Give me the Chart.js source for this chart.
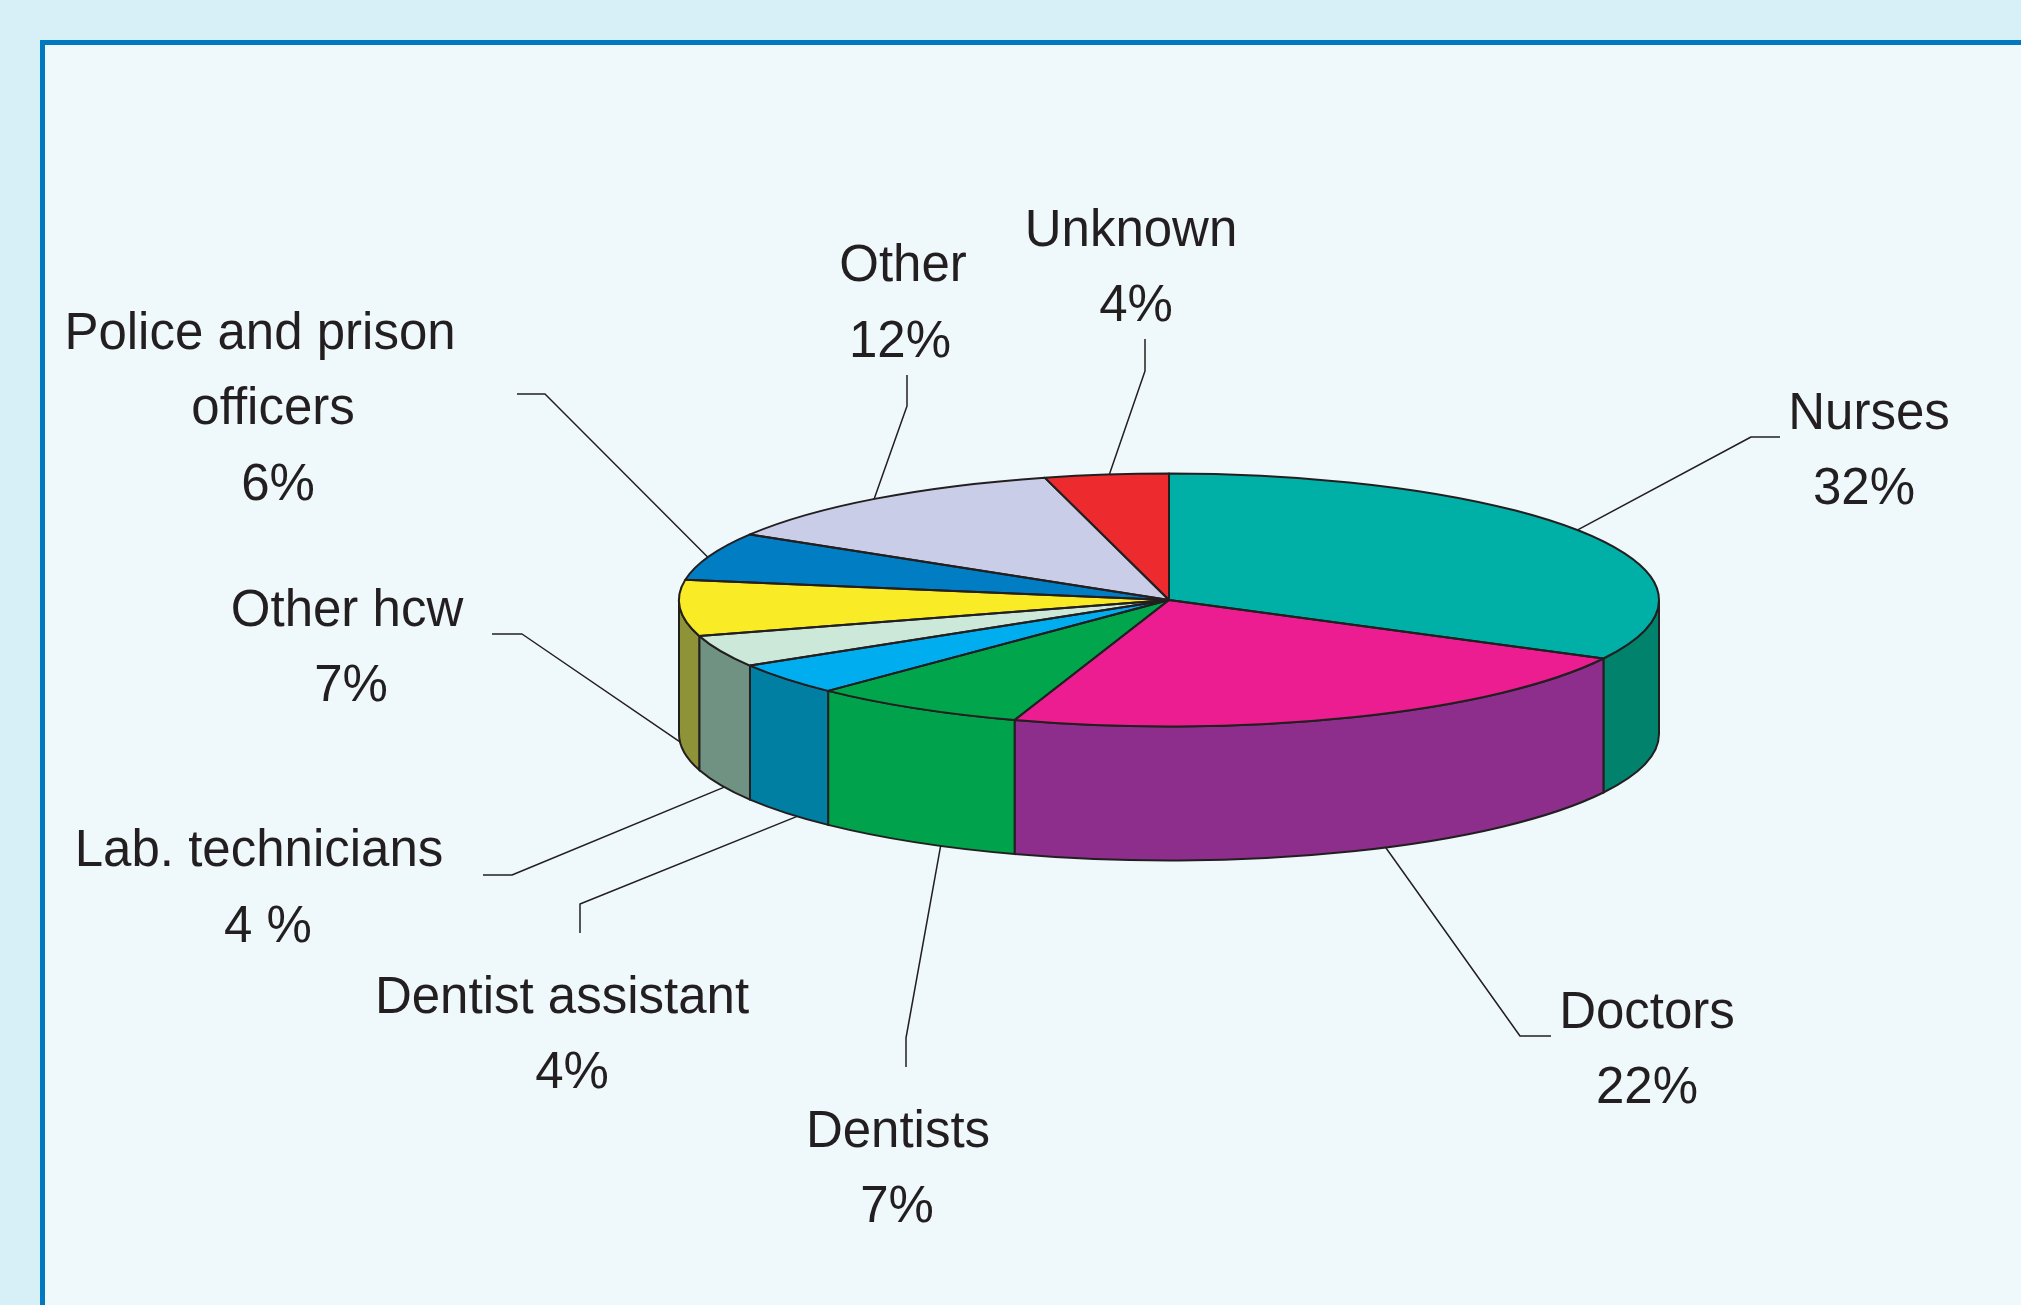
<!DOCTYPE html>
<html>
<head>
<meta charset="utf-8">
<title>Occupation pie</title>
<script src="https://cdn.jsdelivr.net/npm/chart.js@4"></script>
<style>
    html, body { margin: 0; padding: 0; width: 2021px; height: 1305px; overflow: hidden; background: #d7f0f7; }
    #panel { position: absolute; left: 40px; top: 40px; right: -20px; bottom: -20px; background: #eff8fb; border: 5px solid #0079c1; }
    #wrap { position: absolute; left: 0; top: 0; width: 2021px; height: 1305px; }
</style>
</head>
<body>
<div id="panel"></div>
<div id="wrap"><canvas id="pie" width="2021" height="1305"></canvas></div>
<script>
const categories = ['Nurses', 'Doctors', 'Dentists', 'Dentist assistant', 'Lab. technicians', 'Other hcw', 'Police and prison officers', 'Other', 'Unknown'];
const shares = [32, 22, 7, 4, 4, 7, 6, 12, 4];
const shareLabels = ['32%', '22%', '7%', '4%', '4 %', '7%', '6%', '12%', '4%'];

const topColors = ['#00afa5', '#ec1c91', '#00a54c', '#00aeef', '#cce8d8', '#f9ec27', '#007dc3', '#c9cde7', '#ed2a2e'];
const wallColors = ['#00826c', '#8e2e8c', '#00a34b', '#007fa3', '#6f9282', '#8e9338', '#007dc3', '#c9cde7', '#ed2a2e'];

// disc shape: the pie is squashed to an ellipse and given a wall underneath
const PIE_X = 1169, PIE_Y = 600, PIE_R = 490;
const SQUASH = 126.5 / 490;
const WALL = 134;
const INK = '#231f20';

// text centres per category, one entry per line
const labelLines = [
    [[1869, 415], [1864, 490]],
    [[1647, 1014], [1647, 1089]],
    [[898, 1133], [897, 1208]],
    [[562, 999], [572, 1074]],
    [[259, 852], [268, 928]],
    [[347, 612], [351, 687]],
    [[260, 335], [273, 410], [278, 486]],
    [[903, 267], [900, 343]],
    [[1131, 232], [1136, 307]]
];
const labelWrap = { 6: ['Police and prison', 'officers'] };

// leader lines: where along the slice they start, whether that is on the wall, then their elbows
const leaderAt = [0.48, 0.448, 0.366, 0.36, 0.435, 0.506, 0.48, 0.494, 0.524];
const leaderOnWall = [false, true, true, true, true, true, false, false, false];
const leaderBends = [
    [[1751, 437], [1780, 437]],
    [[1520, 1036], [1551, 1036]],
    [[906, 1038], [906, 1067]],
    [[580, 904], [580, 933]],
    [[512, 875], [483, 875]],
    [[522, 634], [492, 634]],
    [[545, 394], [517, 394]],
    [[907, 406], [907, 375]],
    [[1145, 371], [1145, 339]]
];

function drawWalls(chart) {
    const ctx = chart.ctx;
    chart.getDatasetMeta(0).data.forEach((arc, i) => {
        const { x, y, startAngle, endAngle, outerRadius } = arc.getProps(['x', 'y', 'startAngle', 'endAngle', 'outerRadius'], true);
        const from = Math.max(startAngle, 0);
        const to = Math.min(endAngle, Math.PI);
        if (from >= to) return;
        const ry = outerRadius * SQUASH;
        ctx.beginPath();
        ctx.ellipse(x, y, outerRadius, ry, 0, from, to);
        ctx.ellipse(x, y + WALL, outerRadius, ry, 0, to, from, true);
        ctx.closePath();
        ctx.fillStyle = wallColors[i];
        ctx.fill();
        ctx.strokeStyle = INK;
        ctx.lineWidth = 2;
        ctx.stroke();
    });
}

function drawOutlines(chart) {
    const ctx = chart.ctx;
    chart.getDatasetMeta(0).data.forEach(arc => {
        const { x, y, startAngle, endAngle, outerRadius } = arc.getProps(['x', 'y', 'startAngle', 'endAngle', 'outerRadius'], true);
        ctx.beginPath();
        ctx.moveTo(x, y);
        ctx.ellipse(x, y, outerRadius, outerRadius * SQUASH, 0, startAngle, endAngle);
        ctx.closePath();
        ctx.strokeStyle = INK;
        ctx.lineWidth = 2;
        ctx.lineJoin = 'round';
        ctx.stroke();
    });
}

function drawLeaders(chart) {
    const ctx = chart.ctx;
    ctx.strokeStyle = INK;
    ctx.lineWidth = 1.5;
    chart.getDatasetMeta(0).data.forEach((arc, i) => {
        const { x, y, startAngle, endAngle, outerRadius } = arc.getProps(['x', 'y', 'startAngle', 'endAngle', 'outerRadius'], true);
        const a = startAngle + (endAngle - startAngle) * leaderAt[i];
        const sx = x + outerRadius * Math.cos(a);
        const sy = y + outerRadius * SQUASH * Math.sin(a) + (leaderOnWall[i] ? WALL : 0);
        ctx.beginPath();
        ctx.moveTo(sx, sy);
        leaderBends[i].forEach(p => ctx.lineTo(p[0], p[1]));
        ctx.stroke();
    });
}

function drawLabels(chart) {
    const ctx = chart.ctx;
    ctx.font = '51px "Liberation Sans", Arial, sans-serif';
    ctx.fillStyle = INK;
    ctx.textAlign = 'center';
    ctx.textBaseline = 'middle';
    categories.forEach((name, i) => {
        const lines = (labelWrap[i] || [name]).concat(shareLabels[i]);
        lines.forEach((text, n) => {
            const p = labelLines[i][n];
            ctx.fillText(text, p[0], p[1]);
        });
    });
}

const disc3d = {
    id: 'disc3d',
    beforeDatasetsDraw(chart) {
        const ctx = chart.ctx;
        drawWalls(chart);
        // the library draws the slices as a circle, so flatten the context around it
        ctx.save();
        ctx.translate(PIE_X, PIE_Y);
        ctx.scale(1, SQUASH);
        ctx.translate(-PIE_X, -PIE_Y);
    },
    afterDatasetsDraw(chart) {
        chart.ctx.restore();
        drawOutlines(chart);
        drawLeaders(chart);
        drawLabels(chart);
    }
};

new Chart(document.getElementById('pie'), {
    type: 'pie',
    data: {
        labels: categories,
        datasets: [{
            data: shares,
            backgroundColor: topColors,
            borderWidth: 0,
            clip: false
        }]
    },
    options: {
        responsive: false,
        animation: false,
        rotation: 0,
        layout: {
            padding: {
                left: PIE_X - PIE_R,
                right: 2021 - PIE_X - PIE_R,
                top: PIE_Y - PIE_R,
                bottom: 1305 - PIE_Y - PIE_R
            }
        },
        plugins: {
            legend: { display: false },
            tooltip: { enabled: false }
        }
    },
    plugins: [disc3d]
});
</script>
</body>
</html>
